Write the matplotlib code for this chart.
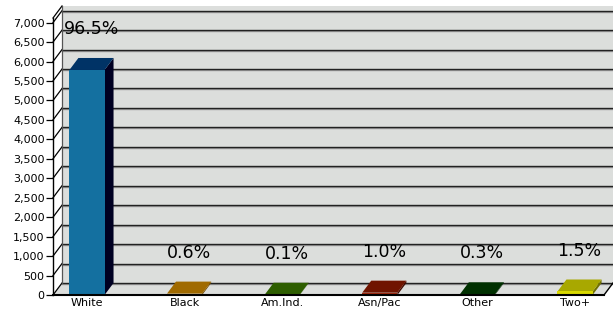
import matplotlib
matplotlib.use("Agg")
import matplotlib.pyplot as plt
from matplotlib import transforms

# data
categories = ['White', 'Black', 'Am.Ind.', 'Asn/Pac', 'Other', 'Two+']
counts = [5784, 36, 6, 60, 18, 90]
percents = ['96.5%', '0.6%', '0.1%', '1.0%', '0.3%', '1.5%']
front_colors = ['#1470a0', '#c88a00', '#3c7800', '#a02a10', '#004400', '#d8d800']
top_colors = ['#003366', '#a06a00', '#2e5e00', '#701400', '#003000', '#a8a800']
side_colors = ['#000022', '#704800', '#1c3a00', '#400800', '#001800', '#707000']
yticks = list(range(0, 7001, 500))

fig = plt.figure(figsize=(6.13, 3.11), dpi=100)
ax = fig.add_axes([53 / 613, 16 / 311, 551 / 613, 277 / 311])

xmin, xmax = -0.348, 5.297
ymax = 7120
ax.set_xlim(xmin, xmax)
ax.set_ylim(0, ymax)
ax.patch.set_visible(False)

# depth of the fake 3d, 9 px right and 12 px up
dx = 9 / (551 / (xmax - xmin))
dy = 12 / (277 / ymax)

# back wall + floor
wall = plt.Polygon([(xmin + dx, dy), (xmax + dx, dy), (xmax + dx, ymax + dy), (xmin + dx, ymax + dy)],
                   closed=True, facecolor='#dcdedc', edgecolor='none', clip_on=False, zorder=0)
ax.add_patch(wall)
floor = plt.Polygon([(xmin, 0), (xmax, 0), (xmax + dx, dy), (xmin + dx, dy)],
                    closed=True, facecolor='#dcdedc', edgecolor='none', clip_on=False, zorder=0)
ax.add_patch(floor)

shadow = transforms.offset_copy(ax.transData, fig=fig, x=0, y=-1, units='dots')
for t in yticks:
    ax.plot([xmin + dx, xmax + dx], [t + dy, t + dy], color='#9a9a9a', lw=1.0,
            transform=shadow, clip_on=False, zorder=1)
    ax.plot([xmin + dx, xmax + dx], [t + dy, t + dy], color='#222222', lw=1.0,
            clip_on=False, zorder=1)
    ax.plot([xmin, xmin + dx], [t, t + dy], color='black', lw=0.9, clip_on=False, zorder=1)
ax.plot([xmin, xmin + dx], [ymax, ymax + dy], color='black', lw=0.9, clip_on=False, zorder=1)
ax.plot([xmin + dx, xmin + dx], [dy, ymax + dy], color='#555555', lw=0.9, clip_on=False, zorder=1)
ax.plot([xmax, xmax + dx], [0, dy], color='black', lw=1.0, clip_on=False, zorder=1)

# bars
w = 0.36
for i, v in enumerate(counts):
    x0, x1 = i - w / 2, i + w / 2
    ax.fill([x1, x1 + dx, x1 + dx, x1], [0, dy, v + dy, v], color=side_colors[i], lw=0, zorder=2)
    ax.fill([x0, x1, x1 + dx, x0 + dx], [v, v, v + dy, v + dy], color=top_colors[i], lw=0, zorder=3)
    ax.bar(i, v, width=w, color=front_colors[i], lw=0, zorder=3)
    ax.annotate(percents[i], xy=(i + dx / 2, v), xytext=(0, 29.5), textcoords='offset points',
                ha='center', va='center', fontsize=12.5, zorder=5)

for s in ['top', 'right']:
    ax.spines[s].set_visible(False)
ax.spines['left'].set_linewidth(1.0)
ax.spines['bottom'].set_linewidth(1.5)
ax.spines['left'].set_zorder(4)
ax.spines['bottom'].set_zorder(4)

ax.set_yticks(yticks)
ax.set_yticklabels(['{:,}'.format(t) for t in yticks])
ax.tick_params(axis='y', length=5, width=0.9, labelsize=8, pad=1)
ax.set_xticks(range(len(categories)))
ax.set_xticklabels(categories)
ax.tick_params(axis='x', length=0, labelsize=8, pad=2.5)

fig.savefig('out.png', dpi=100)
